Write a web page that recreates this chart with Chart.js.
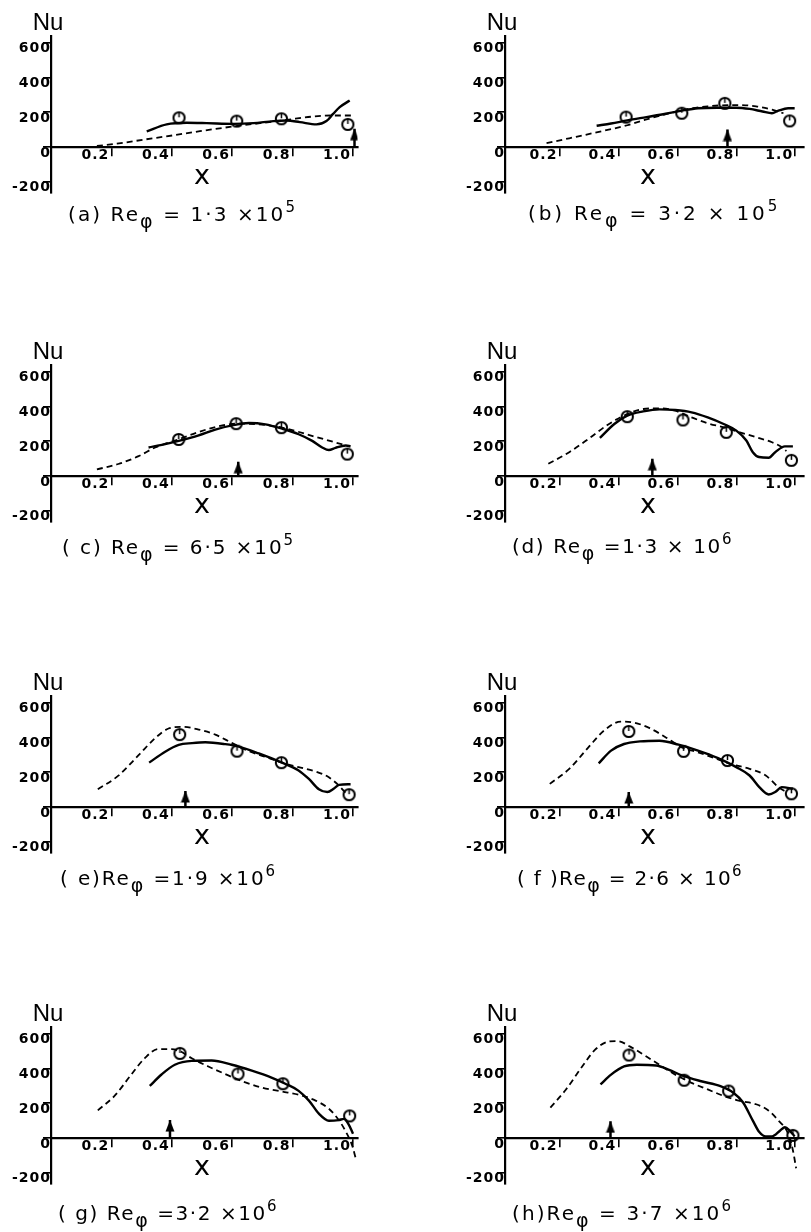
<!DOCTYPE html>
<html><head><meta charset="utf-8">
<script src="https://cdn.jsdelivr.net/npm/chart.js@4"></script>
<style>
html,body{margin:0;padding:0;background:#fff;}
#fig{position:relative;width:811px;height:1232px;overflow:hidden;background:#fff;}
#fig canvas{position:absolute;}
.cap{position:absolute;font-family:"DejaVu Sans";font-size:20px;line-height:24px;white-space:pre;color:#000;letter-spacing:0px;}
.cap .sub{position:relative;top:7px;font-size:19px;}
.cap .sup{position:relative;top:-9px;font-size:15px;}
</style></head>
<body><div id="fig"></div>
<script>
// ---------- data ----------
const panelIds = ['a','b','c','d','e','f','g','h'];
const xTicks = [0.2, 0.4, 0.6, 0.8, 1.0];
const yTicks = [-200, 0, 200, 400, 600];

const solidX_a = [0.317,0.383,0.449,0.515,0.604,0.670,0.736,0.780,0.824,0.879,0.912,0.934,0.956,0.989];
const solidNu_a = [90,130,139,137,133,137,149,152,143,130,149,190,229,267];
const dashX_a = [0.152,0.218,0.306,0.405,0.493,0.604,0.692,0.780,0.868,0.934,1.0];
const dashNu_a = [6,19,42,67,91,118,137,156,175,181,181];
const circleX_a = [0.424,0.615,0.763,0.983];
const circleNu_a = [168,149,162,130];

const solidX_b = [0.326,0.375,0.43,0.495,0.56,0.615,0.67,0.735,0.80,0.845,0.889,0.921,0.943,0.976,0.998];
const solidNu_b = [122,135,153,172,191,209,223,226,226,219,204,194,209,223,223];
const dashX_b = [0.156,0.233,0.32,0.43,0.484,0.626,0.703,0.80,0.867,0.921,0.96];
const dashNu_b = [22,50,82,125,153,215,234,241,234,215,194];
const circleX_b = [0.426,0.615,0.761,0.981];
const circleNu_b = [172,194,251,150];

const solidX_c = [0.323,0.378,0.423,0.489,0.544,0.6,0.655,0.71,0.765,0.82,0.865,0.898,0.92,0.942,0.976,0.992];
const solidNu_c = [164,183,202,234,267,291,305,297,272,240,202,164,149,162,175,171];
const dashX_c = [0.152,0.223,0.29,0.345,0.423,0.489,0.555,0.622,0.688,0.765,0.876,0.965];
const dashNu_c = [38,69,114,164,211,253,286,301,297,278,225,181];
const circleX_c = [0.423,0.613,0.763,0.981];
const circleNu_c = [210,301,278,126];

const solidX_d = [0.337,0.386,0.43,0.484,0.539,0.593,0.648,0.703,0.757,0.80,0.834,0.856,0.877,0.91,0.932,0.965,0.992];
const solidNu_d = [219,299,347,371,383,379,366,337,299,261,204,137,109,105,137,170,170];
const dashX_d = [0.162,0.233,0.298,0.364,0.43,0.484,0.539,0.593,0.648,0.703,0.757,0.812,0.867,0.921,0.954,0.97];
const dashNu_d = [70,137,213,295,356,385,389,375,337,303,280,251,223,194,166,143];
const circleX_d = [0.43,0.619,0.766,0.987];
const circleNu_d = [341,322,251,90];

const solidX_e = [0.325,0.378,0.423,0.467,0.511,0.577,0.622,0.688,0.765,0.82,0.854,0.887,0.915,0.937,0.954,0.992];
const solidNu_e = [255,318,357,367,372,361,347,308,255,210,161,102,86,106,127,131];
const dashX_e = [0.155,0.223,0.29,0.345,0.389,0.434,0.489,0.544,0.6,0.655,0.71,0.765,0.82,0.876,0.92,0.954,0.975];
const dashNu_e = [102,180,298,396,451,461,445,416,367,321,288,255,229,204,171,122,82];
const circleX_e = [0.426,0.616,0.763,0.987];
const circleNu_e = [416,321,255,71];

const solidX_f = [0.333,0.375,0.419,0.473,0.539,0.604,0.67,0.736,0.80,0.845,0.878,0.91,0.932,0.954,0.992];
const solidNu_f = [251,324,362,377,381,358,324,282,229,181,114,72,86,114,105];
const dashX_f = [0.167,0.233,0.298,0.353,0.408,0.451,0.506,0.561,0.615,0.67,0.725,0.779,0.845,0.9,0.943,0.97];
const dashNu_f = [133,219,343,442,491,486,453,400,343,314,282,248,219,181,114,86];
const circleX_f = [0.435,0.621,0.77,0.987];
const circleNu_f = [434,320,267,76];

const solidX_g = [0.327,0.366,0.41,0.466,0.532,0.599,0.665,0.732,0.776,0.82,0.854,0.887,0.92,0.953,0.97,0.985,1.0];
const solidNu_g = [299,365,421,443,445,421,387,346,312,271,215,140,99,103,110,80,25];
const dashX_g = [0.155,0.211,0.266,0.31,0.355,0.399,0.427,0.466,0.521,0.576,0.632,0.698,0.765,0.82,0.876,0.92,0.953,0.976,0.998,1.011];
const dashNu_g = [159,243,365,458,511,511,499,458,411,368,327,290,267,249,215,168,103,37,-47,-131];
const circleX_g = [0.427,0.619,0.768,0.989];
const circleNu_g = [486,368,312,127];

const solidX_h = [0.339,0.375,0.419,0.462,0.528,0.572,0.615,0.681,0.746,0.79,0.823,0.856,0.878,0.9,0.921,0.949,0.965,0.981,0.998];
const solidNu_h = [308,364,411,421,417,392,360,326,298,260,204,100,34,9,9,43,62,43,9];
const dashX_h = [0.169,0.222,0.277,0.32,0.364,0.397,0.44,0.495,0.539,0.593,0.648,0.703,0.757,0.812,0.867,0.91,0.943,0.976,0.992,1.003];
const dashNu_h = [175,279,411,506,553,557,525,468,421,364,317,279,242,213,194,157,100,25,-70,-174];
const circleX_h = [0.436,0.623,0.774,0.992];
const circleNu_h = [477,332,270,15];

const arrowX = [1.005, 0.77, 0.62, 0.515, 0.445, 0.435, 0.394, 0.373];
const arrowTip = [105, 100, 82, 99, 92, 86, 103, 96];

const capPrefix = ['(a) ', '(b) ', '( c) ', '(d) ', '( e)', '( f )', '( g) ', '(h)'];
const capValue = [' = 1·3 ×10', ' = 3·2 × 10', ' = 6·5 ×10', ' =1·3 × 10', ' =1·9 ×10', ' = 2·6 × 10', ' =3·2 ×10', ' = 3·7 ×10'];
const capExp = ['5','5','5','6','6','6','6','6'];

const series = {
  a:[solidX_a,solidNu_a,dashX_a,dashNu_a,circleX_a,circleNu_a],
  b:[solidX_b,solidNu_b,dashX_b,dashNu_b,circleX_b,circleNu_b],
  c:[solidX_c,solidNu_c,dashX_c,dashNu_c,circleX_c,circleNu_c],
  d:[solidX_d,solidNu_d,dashX_d,dashNu_d,circleX_d,circleNu_d],
  e:[solidX_e,solidNu_e,dashX_e,dashNu_e,circleX_e,circleNu_e],
  f:[solidX_f,solidNu_f,dashX_f,dashNu_f,circleX_f,circleNu_f],
  g:[solidX_g,solidNu_g,dashX_g,dashNu_g,circleX_g,circleNu_g],
  h:[solidX_h,solidNu_h,dashX_h,dashNu_h,circleX_h,circleNu_h]
};

// ---------- layout (pixels) ----------
const colLeft = [0, 400], colWidth = [400, 411];
const axisX = [51, 505];
const zeroY = [147, 476, 807, 1138];
const xMin = [0, 0.015], xMax = [1.015, 1.028];
const pxPerX = 302, yMin = -265, yMax = 640, pxPerNu = 0.174;
const canvasAbove = 150, canvasH = 215, yAxisW = 46;
const capLeft = [68, 528, 62, 512, 60, 517, 58, 512];
const capBase = [221, 220, 554, 553, 885, 885, 1220, 1220];
const capWidth = [229, 252, 233, 221, 217, 226, 220, 221];

// ---------- marker images ----------
function circleImg(){
  const c = document.createElement('canvas'); c.width = 15; c.height = 15;
  const g = c.getContext('2d'); g.strokeStyle = '#000'; g.lineWidth = 2;
  g.beginPath(); g.arc(7.5, 7.5, 5.6, 0, Math.PI*2); g.stroke();
  g.lineWidth = 1.5; g.beginPath(); g.moveTo(7.5, 2.5); g.lineTo(7.5, 7); g.stroke();
  return c;
}
function arrowImg(){
  const c = document.createElement('canvas'); c.width = 10; c.height = 24;
  const g = c.getContext('2d'); g.fillStyle = '#000';
  g.beginPath(); g.moveTo(5, 12); g.lineTo(0.5, 23.5); g.lineTo(9.5, 23.5); g.closePath(); g.fill();
  return c;
}
const CIRC = circleImg(), ARROW = arrowImg();

const spacingPlugin = {
  id: 'tickSpacing',
  beforeDraw(chart){ chart.ctx.letterSpacing = '1px'; }
};
const textPlugin = {
  id: 'axisText',
  afterDraw(chart){
    const {ctx, scales:{x, y}} = chart;
    ctx.save();
    ctx.letterSpacing = '0px';
    ctx.fillStyle = '#000';
    ctx.textAlign = 'center'; ctx.textBaseline = 'alphabetic';
    ctx.font = '24px "Liberation Sans"';
    ctx.fillText('Nu', y.right - 3, y.getPixelForValue(600) - 13);
    ctx.font = '27px "DejaVu Sans"';
    ctx.fillText('x', x.getPixelForValue(0.5), y.getPixelForValue(0) + 37);
    ctx.restore();
  }
};

const pts = (xs, ys) => xs.map((v, i) => ({x: v, y: ys[i]}));
const tickFont = {family: 'DejaVu Sans', size: 14, weight: 'bold'};
const zeroPad = s => { s.paddingLeft = 0; s.paddingRight = 0; s.paddingTop = 0; s.paddingBottom = 0; };

const fig = document.getElementById('fig');
panelIds.forEach((id, i) => {
  const col = i % 2, row = Math.floor(i / 2);
  const cv = document.createElement('canvas');
  cv.width = colWidth[col]; cv.height = canvasH;
  cv.style.left = colLeft[col] + 'px'; cv.style.top = (zeroY[row] - canvasAbove) + 'px';
  cv.style.width = colWidth[col] + 'px'; cv.style.height = canvasH + 'px';
  fig.appendChild(cv);

  const axisInCanvas = axisX[col] - colLeft[col];
  const areaW = (xMax[col] - xMin[col]) * pxPerX;
  const padding = {
    left: axisInCanvas - yAxisW,
    right: colWidth[col] - axisInCanvas - areaW,
    top: canvasAbove - yMax * pxPerNu,
    bottom: canvasH - canvasAbove + yMin * pxPerNu
  };
  const [sx, sy, dx, dy, cx, cy] = series[id];

  new Chart(cv, {
    type: 'scatter',
    data: { datasets: [
      { data: pts(cx, cy), showLine: false, pointStyle: CIRC, pointRadius: 6 },
      { data: [{x: arrowX[i], y: 0}, {x: arrowX[i], y: arrowTip[i]}], showLine: true,
        borderColor: '#000', borderWidth: 2.5, pointRadius: [0, 5], pointStyle: ARROW, tension: 0 },
      { data: pts(sx, sy), showLine: true, borderColor: '#000', borderWidth: 2.4,
        pointRadius: 0, cubicInterpolationMode: 'monotone' },
      { data: pts(dx, dy), showLine: true, borderColor: '#000', borderWidth: 1.8,
        borderDash: [6, 4], pointRadius: 0, cubicInterpolationMode: 'monotone' }
    ]},
    options: {
      responsive: false, animation: false, devicePixelRatio: 1,
      layout: { padding },
      plugins: { legend: {display: false}, tooltip: {enabled: false} },
      scales: {
        x: {
          type: 'linear', position: {y: 0}, min: xMin[col], max: xMax[col],
          afterBuildTicks: s => { s.ticks = xTicks.map(v => ({value: v})); },
          afterFit: zeroPad,
          grid: {drawOnChartArea: false, drawTicks: true, tickLength: 8, color: '#000', lineWidth: 1.6},
          border: {display: true, color: '#000', width: 2.2},
          ticks: {color: '#000', font: tickFont, padding: -8, labelOffset: -16, maxRotation: 0,
                  autoSkip: false, callback: v => Number(v).toFixed(1)}
        },
        y: {
          type: 'linear', position: 'left', min: yMin, max: yMax,
          afterBuildTicks: s => { s.ticks = yTicks.map(v => ({value: v})); },
          afterFit: s => { s.width = yAxisW; zeroPad(s); },
          grid: {drawOnChartArea: false, drawTicks: true, tickLength: 8, color: '#000', lineWidth: 1.6},
          border: {display: true, color: '#000', width: 2.2},
          ticks: {color: '#000', font: tickFont, padding: -8, labelOffset: 6, autoSkip: false,
                  callback: v => String(v)}
        }
      }
    },
    plugins: [spacingPlugin, textPlugin]
  });

  const cap = document.createElement('div');
  cap.className = 'cap';
  cap.style.left = capLeft[i] + 'px';
  cap.style.top = (capBase[i] - 19) + 'px';
  cap.innerHTML = capPrefix[i] + 'Re<span class="sub">φ</span>' + capValue[i] + '<span class="sup">' + capExp[i] + '</span>';
  fig.appendChild(cap);
  const natural = cap.getBoundingClientRect().width;
  const nChars = cap.textContent.length;
  cap.style.letterSpacing = ((capWidth[i] - natural) / nChars).toFixed(2) + 'px';
});
</script>
</body></html>
